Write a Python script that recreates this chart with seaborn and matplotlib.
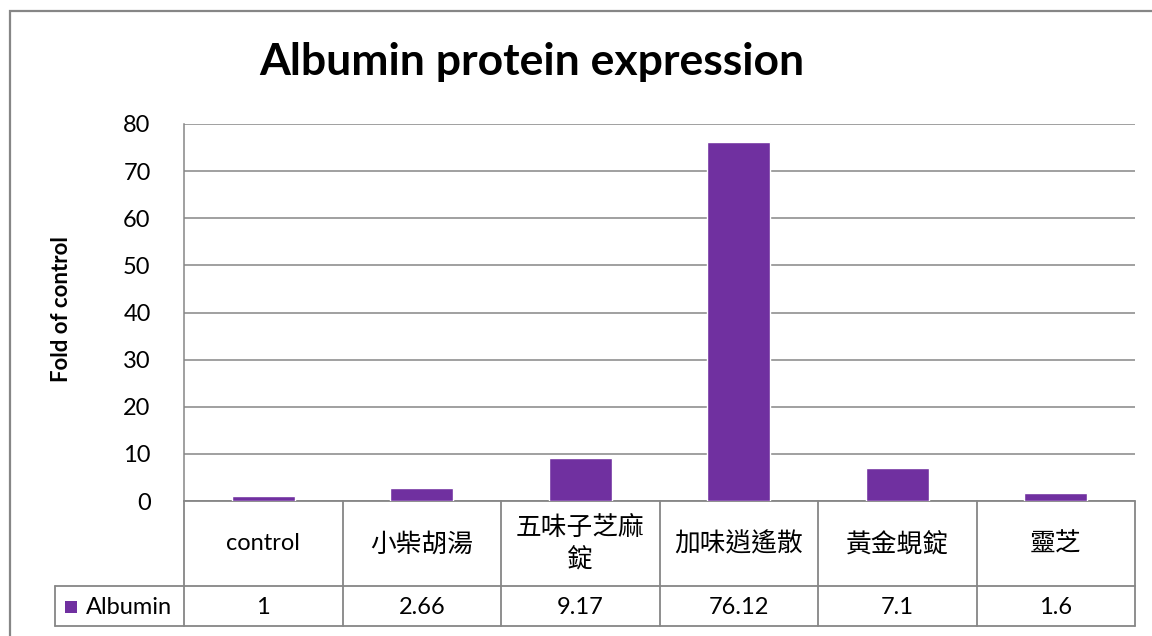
import matplotlib
matplotlib.use("Agg")
import matplotlib.pyplot as plt
import seaborn as sns
import pandas as pd
from matplotlib.patches import Rectangle
from matplotlib.lines import Line2D

# Fold-change of albumin protein relative to control
categories = ["control", "小柴胡湯", "五味子芝麻錠", "加味逍遙散", "黃金蜆錠", "靈芝"]
category_labels = ["control", "小柴胡湯", "五味子芝麻\n錠", "加味逍遙散", "黃金蜆錠", "靈芝"]
albumin = [1, 2.66, 9.17, 76.12, 7.1, 1.6]
value_labels = ["1", "2.66", "9.17", "76.12", "7.1", "1.6"]
y_ticks = [0, 10, 20, 30, 40, 50, 60, 70, 80]

sns.set_style("white")
plt.rcParams["font.family"] = ["Lato", "Noto Sans CJK TC", "DejaVu Sans"]
plt.rcParams["text.color"] = "black"
plt.rcParams["axes.labelcolor"] = "black"
plt.rcParams["ytick.color"] = "black"

W, H = 1152, 636
fig = plt.figure(figsize=(W / 100, H / 100), dpi=100)
fig.patch.set_facecolor("white")

GRID = "#868686"
BAR = "#7030A0"

# outer chart frame (runs off the right and bottom edges)
fig.patches.append(Rectangle((10 / W, -0.05), 1.1, 1 - 11 / H + 0.05,
                             transform=fig.transFigure, fill=False,
                             edgecolor=GRID, linewidth=1.6))

# plot area in pixel terms
x0, x1, y_top, y_zero = 184, 1135, 124, 501
ax = fig.add_axes([x0 / W, (H - y_zero) / H, (x1 - x0) / W, (y_zero - y_top) / H])

df = pd.DataFrame({"category": categories, "Albumin": albumin})
sns.barplot(data=df, x="category", y="Albumin", color=BAR, width=0.4,
            saturation=1, ax=ax, zorder=3)

tr = ax.transAxes
ph = y_zero - y_top
pw = x1 - x0
def fy(py):
    return (y_zero - py) / ph
def fx(px):
    return (px - x0) / pw

ax.set_ylim(0, 80)
ax.set_xlim(-0.5, len(categories) - 0.5)
ax.set_yticks(y_ticks)
ax.set_yticklabels([str(t) for t in y_ticks], fontsize=17)
ax.tick_params(axis="y", length=0, pad=24)
ax.set_xticks([])
ax.set_xlabel("")
ax.set_ylabel("Fold of control", fontsize=16, fontweight="bold")
ax.yaxis.set_label_coords(fx(72), fy(309))
ax.grid(axis="y", color=GRID, linewidth=1.1, zorder=0)
for side in ["top", "right", "bottom"]:
    ax.spines[side].set_visible(False)
ax.spines["left"].set_color(GRID)
ax.spines["left"].set_linewidth(1.1)

fig.text((258 + 806) / 2 / W, 1 - 62 / H, "Albumin protein expression",
         ha="center", va="center", fontsize=32, fontweight="bold")

# data table below the axis
row_mid, row_bot = fy(586), fy(626)
line_kw = dict(color=GRID, linewidth=1.3, transform=tr, clip_on=False)
n = len(categories)
ax.add_line(Line2D([0, 1], [0, 0], **line_kw))
ax.add_line(Line2D([fx(55), 1], [row_mid, row_mid], **line_kw))
ax.add_line(Line2D([fx(55), 1], [row_bot, row_bot], **line_kw))
ax.add_line(Line2D([0, 0], [0, row_bot], **line_kw))
ax.add_line(Line2D([fx(55), fx(55)], [row_mid, row_bot], **line_kw))
for k in range(1, n + 1):
    ax.add_line(Line2D([k / n, k / n], [0, row_bot], **line_kw))

for k, (lab, val) in enumerate(zip(category_labels, value_labels)):
    cx = (k + 0.5) / n
    size = 17 if lab.isascii() else 18.5
    ax.text(cx, fy(544), lab, transform=tr, ha="center", va="center",
            fontsize=size, linespacing=1.3)
    ax.text(cx, fy(607), val, transform=tr, ha="center", va="center",
            fontsize=17)

# legend key inside the table
ax.add_patch(Rectangle((fx(65), fy(613)), 12 / pw, 12 / ph, transform=tr,
                       facecolor=BAR, edgecolor="none", clip_on=False))
ax.text(fx(86), fy(607), "Albumin", transform=tr, ha="left", va="center",
        fontsize=17)

fig.savefig("out.png", dpi=100, facecolor="white")
